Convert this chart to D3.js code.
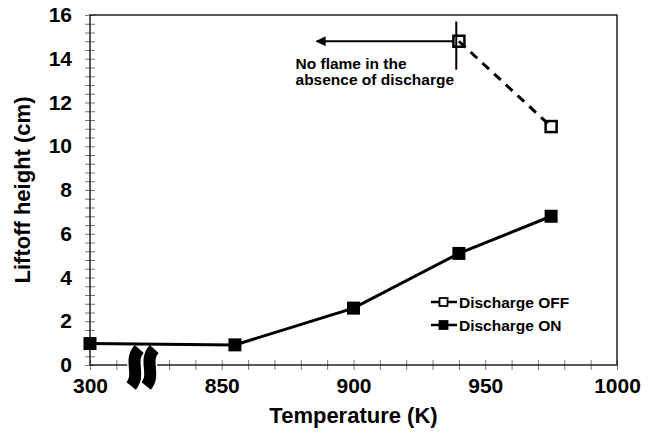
<!DOCTYPE html>
<html>
<head>
<meta charset="utf-8">
<script src="https://cdn.jsdelivr.net/npm/d3@7"></script>
<style>
  body { margin: 0; background: #fff; }
  svg { font-family: "Liberation Sans", Arial, sans-serif; font-weight: bold; }
</style>
</head>
<body>
<svg id="chart" width="655" height="440"></svg>
<script>
// DATA
const xTickLabels = [300, 850, 900, 950, 1000];
const yTickLabels = [0, 2, 4, 6, 8, 10, 12, 14, 16];
const onTemps = [300, 855, 900, 940, 975];
const onValues = [0.98, 0.92, 2.6, 5.1, 6.8];
const offTemps = [940, 975];
const offValues = [14.8, 10.9];
const seriesNames = ['Discharge OFF', 'Discharge ON'];
const noteLines = ['No flame in the', 'absence of discharge'];

// SETUP
const svg = d3.select('#chart'),
  margin = { top: 15, right: 38, bottom: 75, left: 90 },
  width = 655 - margin.left - margin.right,
  height = 440 - margin.top - margin.bottom;

// broken axis: 300 sits one interval left of 850
const x = d3.scaleLinear()
  .domain([300, 850, 1000])
  .range([0, width / 4, width]);
const y = d3.scaleLinear().domain([0, 16]).range([height, 0]);

const g = svg.append('g')
  .attr('transform', 'translate(' + margin.left + ',' + margin.top + ')');

// minor ticks
const xMinor = d3.range(300, 850, 110).concat(d3.range(850, 1001, 10));
const yMinor = d3.range(0, 16.01, 0.4);

g.append('g')
  .attr('transform', 'translate(0,' + height + ')')
  .call(d3.axisBottom(x).tickValues(xMinor).tickSize(5).tickFormat(''))
  .call(a => a.select('.domain').remove())
  .call(a => a.selectAll('line').attr('y1', -5).attr('stroke', '#777'));

g.append('g')
  .call(d3.axisLeft(y).tickValues(yMinor).tickSize(5).tickFormat(''))
  .call(a => a.select('.domain').remove())
  .call(a => a.selectAll('line').attr('x1', 5).attr('stroke', '#777'));

// tick labels
g.append('g')
  .attr('transform', 'translate(0,' + height + ')')
  .call(d3.axisBottom(x).tickValues(xTickLabels).tickSize(0).tickPadding(13)
    .tickFormat(d3.format('d')))
  .call(a => a.select('.domain').remove())
  .call(a => a.selectAll('text')
    .attr('font-size', 21).attr('font-family', null).attr('fill', '#000'));

g.append('g')
  .call(d3.axisLeft(y).tickValues(yTickLabels).tickSize(0).tickPadding(18))
  .call(a => a.select('.domain').remove())
  .call(a => a.selectAll('text')
    .attr('font-size', 21).attr('font-family', null).attr('fill', '#000'));

// FRAME
g.append('rect')
  .attr('width', width)
  .attr('height', height)
  .attr('fill', 'none')
  .attr('stroke', '#222')
  .attr('stroke-width', 1.5);

// AXIS BREAK
const bx = x(520), by = height;
function breakPath(dx) {
  return 'M' + (bx + dx + 4) + ',' + (by - 16) +
    ' C' + (bx + dx - 7) + ',' + (by - 4) + ' ' + (bx + dx + 6) + ',' + (by + 9) +
    ' ' + (bx + dx - 4) + ',' + (by + 21);
}
[-7.5, 7.5].forEach(function (dx) {
  g.append('path')
    .attr('d', breakPath(dx))
    .attr('fill', 'none')
    .attr('stroke', '#fff')
    .attr('stroke-width', 15);
});
[-7.5, 7.5].forEach(function (dx) {
  g.append('path')
    .attr('d', breakPath(dx))
    .attr('fill', 'none')
    .attr('stroke', '#000')
    .attr('stroke-width', 12);
});

// AXIS TITLES
svg.append('text')
  .attr('x', margin.left + width / 2)
  .attr('y', 423)
  .attr('text-anchor', 'middle')
  .attr('font-size', 22)
  .text('Temperature (K)');

svg.append('text')
  .attr('transform', 'translate(30,' + (margin.top + height / 2) + ') rotate(-90)')
  .attr('text-anchor', 'middle')
  .attr('font-size', 22)
  .text('Liftoff height (cm)');

// ANNOTATION
svg.append('defs').append('marker')
  .attr('id', 'arrow')
  .attr('viewBox', '0 0 10 10')
  .attr('refX', 9).attr('refY', 5)
  .attr('markerWidth', 5).attr('markerHeight', 5)
  .attr('orient', 'auto')
  .append('path')
  .attr('d', 'M0,0 L10,5 L0,10 Z')
  .attr('fill', '#000');

g.append('line')
  .attr('x1', x(939)).attr('x2', x(939))
  .attr('y1', y(15.7)).attr('y2', y(13.5))
  .attr('stroke', '#000').attr('stroke-width', 2);

g.append('line')
  .attr('x1', x(938)).attr('x2', x(886))
  .attr('y1', y(14.8)).attr('y2', y(14.8))
  .attr('stroke', '#000').attr('stroke-width', 2)
  .attr('marker-end', 'url(#arrow)');

g.append('text')
  .attr('x', x(878))
  .attr('y', y(13.55))
  .attr('font-size', 15.5)
  .selectAll('tspan')
  .data(noteLines)
  .enter()
  .append('tspan')
  .attr('x', x(878))
  .attr('dy', (d, i) => i === 0 ? 0 : 16.5)
  .text(d => d);

// LINES
const line = d3.line().x(d => x(d[0])).y(d => y(d[1]));
const onData = onTemps.map((t, i) => [t, onValues[i]]);
const offData = offTemps.map((t, i) => [t, offValues[i]]);

g.append('path')
  .datum(offData)
  .attr('d', line)
  .attr('fill', 'none')
  .attr('stroke', '#000')
  .attr('stroke-width', 3)
  .attr('stroke-dasharray', '9,7');

g.append('path')
  .datum(onData)
  .attr('d', line)
  .attr('fill', 'none')
  .attr('stroke', '#000')
  .attr('stroke-width', 3);

// MARKERS
g.selectAll('.off')
  .data(offData)
  .enter()
  .append('rect')
  .attr('class', 'off')
  .attr('x', d => x(d[0]) - 5.5)
  .attr('y', d => y(d[1]) - 5.5)
  .attr('width', 11)
  .attr('height', 11)
  .attr('fill', 'none')
  .attr('stroke', '#000')
  .attr('stroke-width', 2.5);

g.selectAll('.on')
  .data(onData)
  .enter()
  .append('rect')
  .attr('class', 'on')
  .attr('x', d => x(d[0]) - 6.5)
  .attr('y', d => y(d[1]) - 6.5)
  .attr('width', 13)
  .attr('height', 13)
  .attr('fill', '#000');

// LEGEND
const legend = svg.append('g').attr('transform', 'translate(431,302)');
seriesNames.forEach(function (name, i) {
  const row = legend.append('g').attr('transform', 'translate(0,' + (i * 23) + ')');
  row.append('line')
    .attr('x1', 0).attr('x2', 26)
    .attr('stroke', '#000').attr('stroke-width', 2.5);
  row.append('rect')
    .attr('x', 8.5).attr('y', -4)
    .attr('width', 8).attr('height', 8)
    .attr('fill', i === 0 ? '#fff' : '#000')
    .attr('stroke', '#000')
    .attr('stroke-width', 1.8);
  row.append('text')
    .attr('x', 28)
    .attr('y', 5.5)
    .attr('font-size', 15.5)
    .text(name);
});
</script>
</body>
</html>
